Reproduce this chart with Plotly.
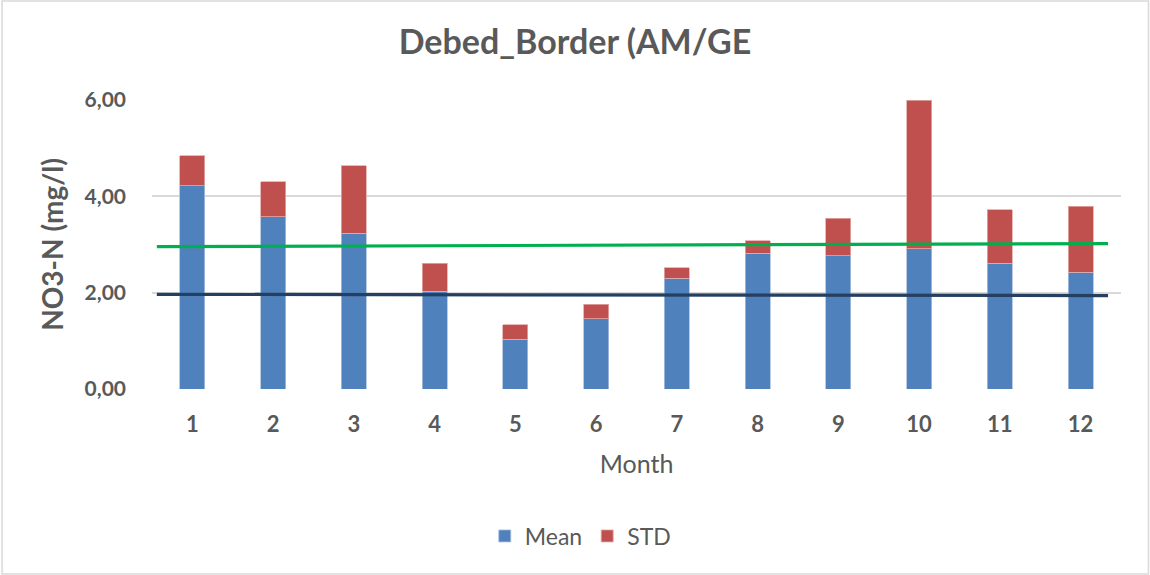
import plotly.graph_objects as go

months = [1, 2, 3, 4, 5, 6, 7, 8, 9, 10, 11, 12]
mean_vals = [4.22, 3.58, 3.23, 2.03, 1.03, 1.46, 2.30, 2.82, 2.77, 2.91, 2.61, 2.42]
std_vals = [0.62, 0.72, 1.40, 0.58, 0.30, 0.30, 0.22, 0.26, 0.78, 3.09, 1.11, 1.37]
green_line_x = [0.56, 12.34]
green_line_y = [2.955, 3.02]
dark_line_x = [0.56, 12.34]
dark_line_y = [1.965, 1.94]

txt = "#595959"
font = "Lato"

fig = go.Figure()
fig.add_trace(go.Bar(x=months, y=mean_vals, name="Mean", width=0.31,
                     marker=dict(color="#4F81BD", line=dict(color="#A9C0DE", width=0.8))))
fig.add_trace(go.Bar(x=months, y=std_vals, name="STD", width=0.31,
                     marker=dict(color="#C0504D", line=dict(color="#E3A9A7", width=0.8))))
fig.add_trace(go.Scatter(x=green_line_x, y=green_line_y, mode="lines",
                         line=dict(color="#00B050", width=3.2), showlegend=False))
fig.add_trace(go.Scatter(x=dark_line_x, y=dark_line_y, mode="lines",
                         line=dict(color="#243F60", width=3.2), showlegend=False))

L, R, T, B = 151.5, 1121, 100, 389
W, H = 1150, 575
pw, ph = R - L, B - T
def px(x): return (x - L) / pw
def py(y): return (B - y) / ph

fig.add_shape(type="rect", xref="paper", yref="paper",
              x0=px(1.5), x1=px(1148.5), y0=py(574), y1=py(1),
              line=dict(color="#D9D9D9", width=1.5), layer="below")

fig.update_layout(
    width=W, height=H,
    margin=dict(l=L, r=W - R, t=T, b=H - B, autoexpand=False),
    barmode="stack",
    plot_bgcolor="white", paper_bgcolor="white",
    separators=",.",
    font=dict(family=font, color=txt),
    title=dict(text="<b>Debed_Border (AM/GE</b>", x=575 / W, xref="container", xanchor="center",
               y=1 - 42 / H, yanchor="middle",
               font=dict(size=34, color=txt, family=font)),
    xaxis=dict(range=[0.5, 12.5], tickmode="array", tickvals=months,
               ticktext=["<b>%d</b>" % m for m in months],
               tickfont=dict(size=22, color=txt), showgrid=False, zeroline=False,
               showline=False, ticks="", ticklabelstandoff=20, automargin=False,
               title=dict(text="Month", font=dict(size=25, color=txt), standoff=19)),
    yaxis=dict(range=[0, 6], tickvals=[0, 2, 4, 6], tickformat=".2f",
               tickfont=dict(size=21, color=txt, weight="bold"),
               showgrid=True, gridcolor="#D9D9D9", gridwidth=1.5,
               zeroline=False, showline=False, ticks="", ticklabelstandoff=25, automargin=False,
               title=dict(text="<b>NO3-N (mg/l)</b>", font=dict(size=28, color=txt), standoff=12)),
    legend=dict(orientation="h", x=px(580), xanchor="center",
                xref="paper", y=py(536), yanchor="middle",
                font=dict(size=23, color=txt), traceorder="normal"),
)
fig.write_html("out.html", config={"displayModeBar": False},
               post_script="document.body.style.margin='0px';")
